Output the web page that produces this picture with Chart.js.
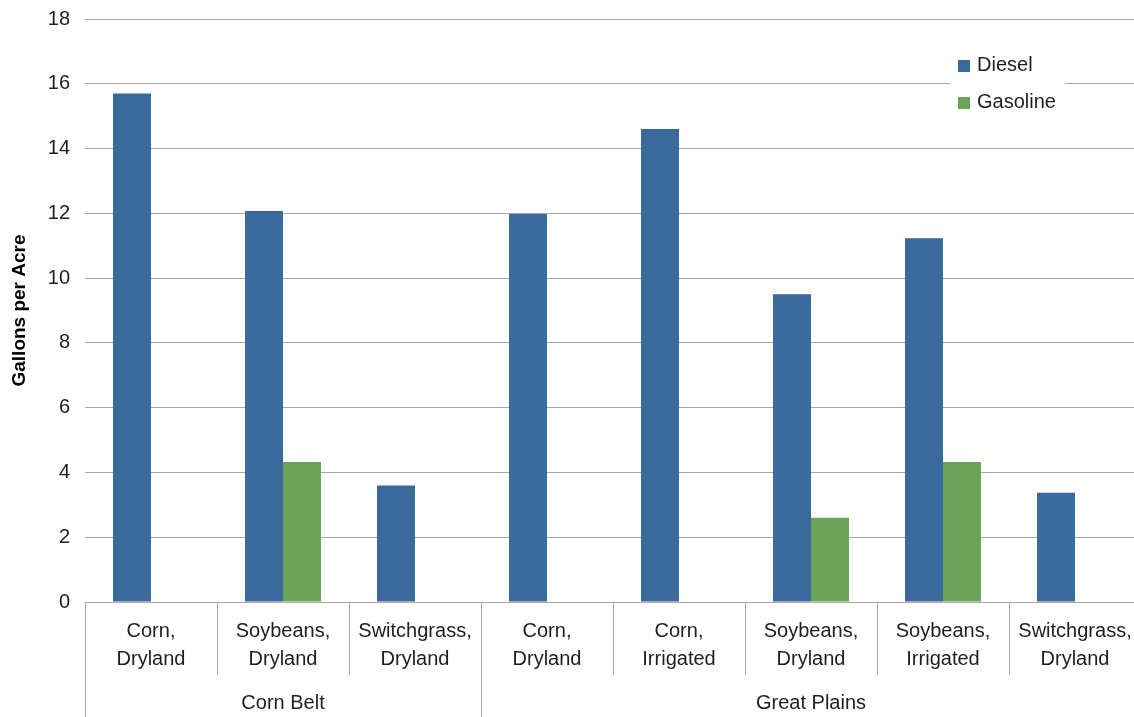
<!DOCTYPE html>
<html>
<head>
<meta charset="utf-8">
<script src="https://cdn.jsdelivr.net/npm/chart.js@4/dist/chart.umd.min.js"></script>
<style>
  html, body { margin:0; padding:0; background:#fff; overflow:hidden; }
  #wrap { width:1150px; height:717px; position:relative; }
</style>
</head>
<body>
<div id="wrap"><canvas id="fuelChart"></canvas></div>
<script>
// fuel use per acre by crop and region
const categories = [
  ['Corn,', 'Dryland'],
  ['Soybeans,', 'Dryland'],
  ['Switchgrass,', 'Dryland'],
  ['Corn,', 'Dryland'],
  ['Corn,', 'Irrigated'],
  ['Soybeans,', 'Dryland'],
  ['Soybeans,', 'Irrigated'],
  ['Switchgrass,', 'Dryland']
];
const regions = [
  {name:'Corn Belt', from:0, to:3},
  {name:'Great Plains', from:3, to:8}
];
const diesel   = [15.7, 12.07, 3.6, 11.98, 14.6, 9.5, 11.23, 3.37];
const gasoline = [null, 4.32, null, null, null, 2.6, 4.32, null];
const yTicks = {min:0, max:18, step:2};

const BLUE = '#3a6a9b', GREEN = '#6aa458', GRID = '#a6a6a6', TEXT = '#1e1e1e';
const FONT = '"Liberation Sans", Arial, sans-serif';
const FS = 20;

// region row under the category labels + divider lines
const groupAxis = {
  id:'groupAxis',
  afterDraw(chart){
    const {ctx} = chart;
    const x = chart.scales.x;
    const base = x.top;
    const step = x.getPixelForValue(1) - x.getPixelForValue(0);
    const edge = i => x.getPixelForValue(0) - step/2 + i*step;
    const starts = regions.map(r=>r.from);

    ctx.save();
    ctx.strokeStyle = GRID;
    ctx.lineWidth = 1;
    for(let i = 0; i < categories.length; i++){
      const px = Math.round(edge(i)) + 0.5;
      const long = starts.includes(i);
      ctx.beginPath();
      ctx.moveTo(px, base);
      ctx.lineTo(px, long ? chart.height : base + 73);
      ctx.stroke();
    }
    ctx.fillStyle = TEXT;
    ctx.font = FS + 'px ' + FONT;
    ctx.textAlign = 'center';
    ctx.textBaseline = 'middle';
    regions.forEach(r=>{
      ctx.fillText(r.name, (edge(r.from) + edge(r.to))/2, base + 101);
    });

    // legend box over the gridlines
    const lx = 950, ly = 48;
    ctx.fillStyle = '#fff';
    ctx.fillRect(lx, ly, 115, 72);
    [[BLUE,'Diesel'],[GREEN,'Gasoline']].forEach(([c,t],k)=>{
      const cy = ly + 17 + k*37;
      ctx.fillStyle = c;
      ctx.fillRect(lx + 8, cy - 5, 12, 12);
      ctx.fillStyle = TEXT;
      ctx.textAlign = 'left';
      ctx.fillText(t, lx + 27, cy);
    });
    ctx.restore();
  }
};

new Chart(document.getElementById('fuelChart'), {
  type:'bar',
  data:{
    labels:categories,
    datasets:[
      {label:'Diesel', data:diesel, backgroundColor:BLUE},
      {label:'Gasoline', data:gasoline, backgroundColor:GREEN}
    ]
  },
  options:{
    responsive:true,
    maintainAspectRatio:false,
    animation:false,
    devicePixelRatio:1,
    categoryPercentage:0.576,
    barPercentage:1,
    layout:{padding:{top:19, right:9, left:0, bottom:0}},
    plugins:{legend:{display:false}, tooltip:{enabled:false}},
    scales:{
      x:{
        grid:{display:false, drawTicks:false},
        border:{display:true, color:GRID, width:1},
        ticks:{color:TEXT, padding:15, maxRotation:0, autoSkip:false,
               font:{family:FONT, size:FS, lineHeight:1.4}},
        afterFit(s){ s.height = 115; }
      },
      y:{
        min:yTicks.min, max:yTicks.max,
        grid:{color:GRID, lineWidth:1, drawTicks:false},
        border:{display:false},
        ticks:{stepSize:yTicks.step, color:TEXT, padding:15,
               font:{family:FONT, size:FS}},
        title:{display:true, text:'Gallons per Acre', color:'#000',
               padding:{top:8, bottom:0}, font:{family:FONT, size:19, weight:'bold'}},
        afterFit(s){ s.width = 85; s.paddingTop = 0; s.paddingBottom = 0; }
      }
    }
  },
  plugins:[groupAxis]
});
</script>
</body>
</html>
